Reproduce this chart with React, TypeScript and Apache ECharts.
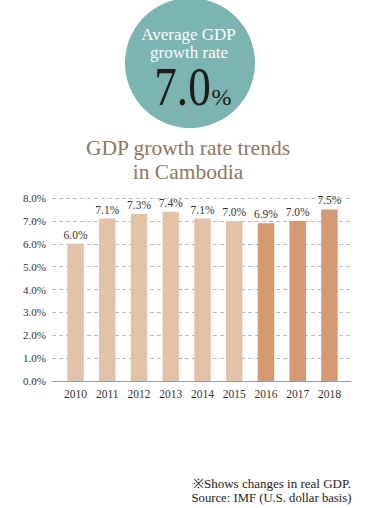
import React, { useEffect, useRef } from "react";
import * as echarts from "echarts";

const years = ["2010", "2011", "2012", "2013", "2014", "2015", "2016", "2017", "2018"];
const growth = [6.0, 7.1, 7.3, 7.4, 7.1, 7.0, 6.9, 7.0, 7.5];
const highlighted = [false, false, false, false, false, false, true, true, true];
const averageGrowth = "7.0";
const titleLines = ["GDP growth rate trends", "in Cambodia"];
const circleLines = ["Average GDP", "growth rate"];
const notes = ["※Shows changes in real GDP.", "Source: IMF (U.S. dollar basis)"];

const SERIF = "Liberation Serif";
const LIGHT = "#e3c3a8";
const DARK = "#d49a72";

export default function App() {
  const ref = useRef<HTMLDivElement>(null);
  useEffect(() => {
    if (!ref.current) return;
    const chart = echarts.init(ref.current, null, { renderer: "svg" });
    const txt = (
      text: string,
      x: number,
      y: number,
      size: number,
      fill: string,
      align: string,
      extra: any = {}
    ) => ({
      type: "text",
      x,
      y,
      ...extra,
      style: {
        text,
        fill,
        fontSize: size,
        fontFamily: SERIF,
        textAlign: align,
        textVerticalAlign: "middle",
      },
    });
    chart.setOption({
      animation: false,
      backgroundColor: "#ffffff",
      textStyle: { fontFamily: SERIF },
      grid: [
        { left: 52, right: 29, top: 198, bottom: 127 },
        { left: 59.7, right: 34.7, top: 198, bottom: 127 },
      ],
      xAxis: [
        {
          gridIndex: 0,
          type: "value",
          min: 0,
          max: 1,
          axisLine: { show: true, onZero: false, lineStyle: { color: "#999", width: 1 } },
          axisTick: { show: false },
          axisLabel: { show: false },
          splitLine: { show: false },
        },
        {
          gridIndex: 1,
          type: "category",
          data: years,
          axisLine: { show: false },
          axisTick: { show: false },
          axisLabel: { color: "#333", fontSize: 11.5, fontFamily: SERIF, margin: 7 },
        },
      ],
      yAxis: [
        {
          gridIndex: 0,
          type: "value",
          min: 0,
          max: 8,
          interval: 1,
          axisLine: { show: false },
          axisTick: { show: false },
          axisLabel: {
            color: "#333",
            fontSize: 11,
            fontFamily: SERIF,
            margin: 6,
            formatter: (v: number) => v.toFixed(1) + "%",
          },
          splitLine: { lineStyle: { color: "#bbb", type: [4, 3], width: 1 } },
        },
        {
          gridIndex: 1,
          type: "value",
          min: 0,
          max: 8,
          interval: 1,
          show: false,
          splitLine: { show: false },
        },
      ],
      series: [
        {
          type: "bar",
          xAxisIndex: 1,
          yAxisIndex: 1,
          barWidth: 16.5,
          data: growth.map((v, i) => ({
            value: v,
            itemStyle: { color: highlighted[i] ? DARK : LIGHT },
          })),
          label: {
            show: true,
            position: "top",
            distance: 3,
            color: "#333",
            fontSize: 11.5,
            fontFamily: SERIF,
            formatter: (p: any) => Number(p.value).toFixed(1) + "%",
          },
        },
      ],
      graphic: [
        {
          type: "circle",
          shape: { cx: 190, cy: 63, r: 65 },
          style: { fill: "#7cb4b2" },
          silent: true,
        },
        txt(circleLines[0], 188.5, 34.5, 17, "#ffffff", "center"),
        txt(circleLines[1], 189, 52, 17, "#ffffff", "center"),
        txt(averageGrowth, 182.5, 86, 55, "#1e1a18", "center", { scaleX: 0.82 }),
        txt("%", 211.5, 97, 24, "#1e1a18", "left"),
        txt(titleLines[0], 188, 148, 21.5, "#8a7864", "center"),
        txt(titleLines[1], 188, 172, 21.5, "#8a7864", "center"),
        txt(notes[0], 193, 483, 13, "#222", "left"),
        txt(notes[1], 191.5, 498, 12.7, "#222", "left"),
      ],
    });
    return () => chart.dispose();
  }, []);
  return (
    <div
      ref={ref}
      style={{ position: "fixed", left: 0, top: 0, width: 380, height: 508, background: "#fff" }}
    />
  );
}
